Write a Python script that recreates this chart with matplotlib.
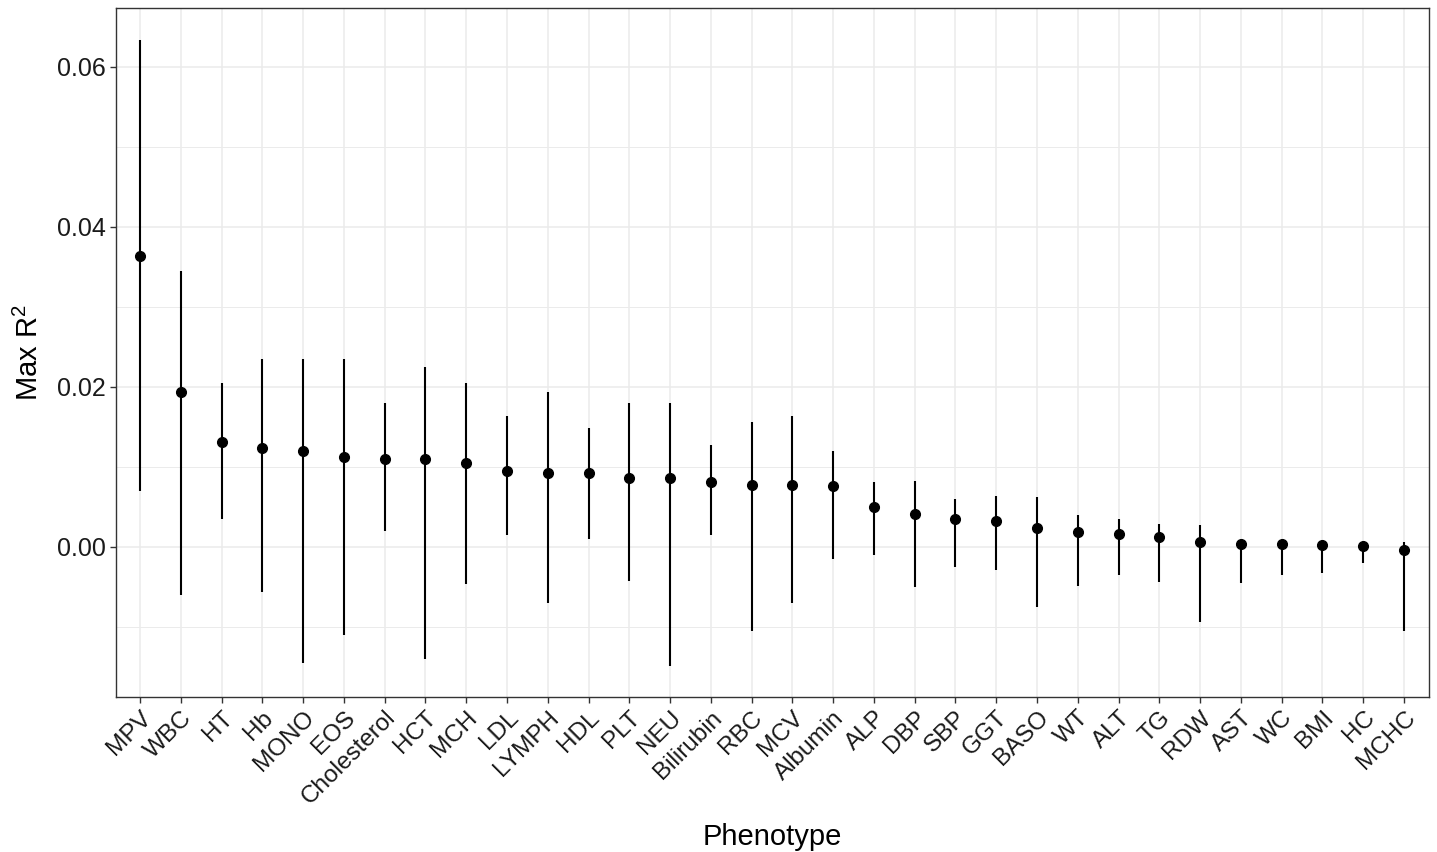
import numpy as np
import matplotlib
matplotlib.use('Agg')
import matplotlib.pyplot as plt
from matplotlib.ticker import MultipleLocator

plt.rcParams['font.family'] = ['Liberation Sans', 'DejaVu Sans']
plt.rcParams['mathtext.fontset'] = 'custom'
plt.rcParams['mathtext.rm'] = 'Liberation Sans'
plt.rcParams['mathtext.it'] = 'Liberation Sans'

# phenotypes, ordered as in the chart
phenotypes = ['MPV', 'WBC', 'HT', 'Hb', 'MONO', 'EOS', 'Cholesterol', 'HCT', 'MCH',
              'LDL', 'LYMPH', 'HDL', 'PLT', 'NEU', 'Bilirubin', 'RBC', 'MCV', 'Albumin',
              'ALP', 'DBP', 'SBP', 'GGT', 'BASO', 'WT', 'ALT', 'TG', 'RDW', 'AST', 'WC',
              'BMI', 'HC', 'MCHC']

# max R^2 point estimates
r2 = [0.0363, 0.0193, 0.0131, 0.0123, 0.0119, 0.0112, 0.0110, 0.0109, 0.0104,
      0.0095, 0.0092, 0.0092, 0.0086, 0.0086, 0.0081, 0.0077, 0.0077, 0.0076,
      0.0049, 0.0041, 0.0034, 0.0032, 0.0023, 0.0018, 0.0016, 0.0012, 0.0006,
      0.0003, 0.0003, 0.0002, 0.0001, -0.0004]

# upper and lower interval ends
r2_hi = [0.0633, 0.0345, 0.0205, 0.0235, 0.0235, 0.0235, 0.0180, 0.0225, 0.0205,
         0.0163, 0.0193, 0.0148, 0.0179, 0.0180, 0.0127, 0.0156, 0.0163, 0.0120,
         0.0081, 0.0082, 0.0060, 0.0063, 0.0062, 0.0039, 0.0035, 0.0028, 0.0027,
         0.0006, 0.0005, 0.0002, 0.0006, 0.0006]
r2_lo = [0.0069, -0.0061, 0.0035, -0.0057, -0.0145, -0.0111, 0.0019, -0.0140, -0.0047,
         0.0015, -0.0071, 0.0010, -0.0043, -0.0149, 0.0015, -0.0105, -0.0071, -0.0015,
         -0.0011, -0.0050, -0.0025, -0.0029, -0.0076, -0.0049, -0.0035, -0.0044, -0.0094,
         -0.0045, -0.0035, -0.0033, -0.0020, -0.0106]

x = np.arange(len(phenotypes))

fig = plt.figure(figsize=(14.37, 8.52), dpi=100)
W, H = 1437, 852
ax = fig.add_axes([115.5 / W, 1 - 697 / H, (1428.5 - 115.5) / W, (697 - 8) / H])

ax.vlines(x, r2_lo, r2_hi, color='black', linewidth=1.5, zorder=3)
ax.plot(x, r2, 'o', color='black', markersize=7, zorder=4)

ax.set_xlim(-0.6, len(phenotypes) - 1 + 0.6)
ax.set_ylim(-0.01879, 0.06734)

ax.yaxis.set_major_locator(MultipleLocator(0.02))
ax.yaxis.set_minor_locator(MultipleLocator(0.01))
ax.set_yticks([0.0, 0.02, 0.04, 0.06])
ax.set_yticklabels(['0.00', '0.02', '0.04', '0.06'])
ax.set_xticks(x)
ax.set_xticklabels(phenotypes, rotation=45, ha='right', rotation_mode='anchor')

ax.grid(which='major', color='#EBEBEB', linewidth=1.1, zorder=0)
ax.grid(which='minor', axis='y', color='#EBEBEB', linewidth=0.7, zorder=0)
ax.set_axisbelow(True)

ax.tick_params(axis='both', which='major', length=4, width=1, color='#333333',
               labelcolor='#1a1a1a', pad=3)
ax.tick_params(axis='y', labelsize=18)
ax.tick_params(axis='x', labelsize=17.5)
ax.tick_params(axis='y', which='minor', length=0)
for s in ax.spines.values():
    s.set_color('#333333')
    s.set_linewidth(1)

ax.set_xlabel('Phenotype', fontsize=21, labelpad=10)
ax.set_ylabel('Max R$^2$', fontsize=21, labelpad=9)

fig.savefig('out.png', dpi=100)
